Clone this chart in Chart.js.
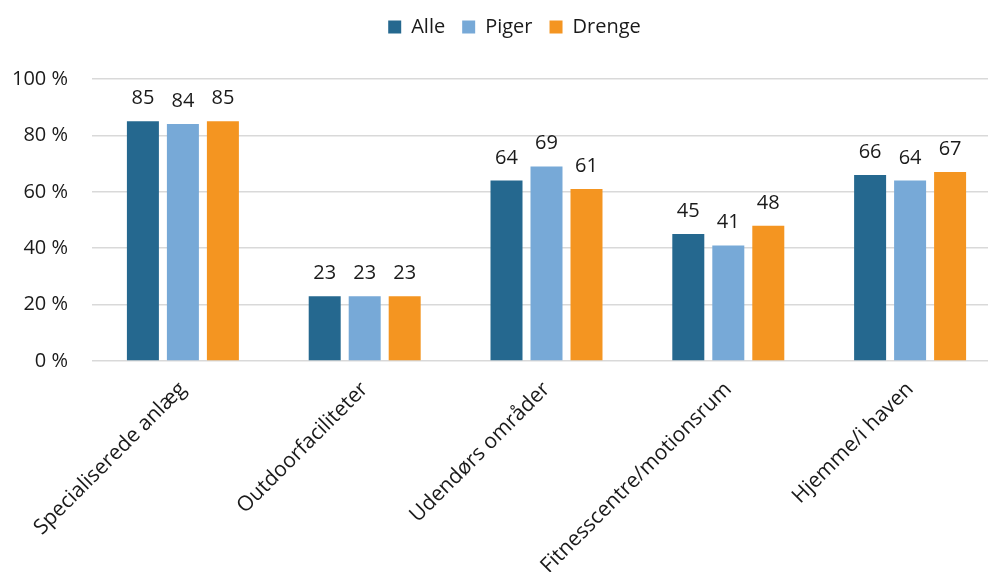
<!DOCTYPE html>
<html lang="da">
<head>
<meta charset="utf-8">
<title>Hvor dyrker de idræt</title>
<script src="https://cdn.jsdelivr.net/npm/chart.js@4.4.1/dist/chart.umd.min.js"></script>
<style>
  html, body { margin: 0; padding: 0; background: #fff; overflow: hidden; }
  canvas { display: block; }
</style>
</head>
<body>
<canvas id="chart" width="1010" height="572"></canvas>
<script>
// ── Data ──
const categories   = ['Specialiserede anlæg', 'Outdoorfaciliteter', 'Udendørs områder', 'Fitnesscentre/motionsrum', 'Hjemme/i haven'];
const alleValues   = [85, 23, 64, 45, 66];
const pigerValues  = [84, 23, 69, 41, 64];
const drengeValues = [85, 23, 61, 48, 67];
const yTicks       = [0, 20, 40, 60, 80, 100];

const TEXT = '#1a1a1a';
const FONT = '"Open Sans", sans-serif';

Chart.defaults.font.family = FONT;
Chart.defaults.font.size   = 20;
Chart.defaults.color       = TEXT;

// extra room below the legend, and nudge it right
const legendTweak = {
  id: 'legendTweak',
  beforeInit(chart) {
    const legend = chart.legend;
    const fit  = legend.fit;
    const draw = legend.draw;
    legend.fit = function () {
      fit.call(legend);
      legend.height += 32;
    };
    legend.draw = function () {
      const ctx = chart.ctx;
      ctx.save();
      ctx.translate(14, 0);
      draw.call(legend);
      ctx.restore();
    };
  }
};

// value printed above each bar
const barValueLabels = {
  id: 'barValueLabels',
  afterDatasetsDraw(chart) {
    const { ctx } = chart;
    ctx.save();
    ctx.font = '20px ' + FONT;
    ctx.fillStyle = TEXT;
    ctx.textAlign = 'center';
    ctx.textBaseline = 'alphabetic';
    chart.data.datasets.forEach((ds, i) => {
      chart.getDatasetMeta(i).data.forEach((bar, j) => {
        ctx.fillText(ds.data[j], bar.x, bar.y - 17);
      });
    });
    ctx.restore();
  }
};

new Chart(document.getElementById('chart'), {
  type: 'bar',
  data: {
    labels: categories,
    datasets: [
      { label: 'Alle',   data: alleValues,   backgroundColor: '#25688F' },
      { label: 'Piger',  data: pigerValues,  backgroundColor: '#77A9D7' },
      { label: 'Drenge', data: drengeValues, backgroundColor: '#F49521' },
    ]
  },
  options: {
    responsive: false,
    animation: false,
    layout: { padding: { left: 0, right: 9, top: 0, bottom: 0 } },
    datasets: {
      bar: { categoryPercentage: 0.66, barPercentage: 0.8 }
    },
    plugins: {
      legend: {
        position: 'top',
        labels: { boxWidth: 13, boxHeight: 13, padding: 17, color: TEXT, font: { size: 20 } }
      },
      tooltip: { enabled: false },
    },
    scales: {
      x: {
        grid:   { display: false },
        border: { display: false },
        ticks:  { maxRotation: 45, minRotation: 45, padding: 8, color: TEXT, font: { size: 21 } },
        afterFit(scale) { scale.height = 211; }
      },
      y: {
        min: 0,
        max: 100,
        grid:   { color: '#D9D9D9', lineWidth: 1.5, drawTicks: false },
        border: { display: false },
        afterBuildTicks(scale) { scale.ticks = yTicks.map(v => ({ value: v })); },
        ticks:  { padding: 24, color: TEXT, font: { size: 20 }, callback: v => v + ' %' },
        afterFit(scale) { scale.width = 92; }
      }
    }
  },
  plugins: [legendTweak, barValueLabels]
});
</script>
</body>
</html>
